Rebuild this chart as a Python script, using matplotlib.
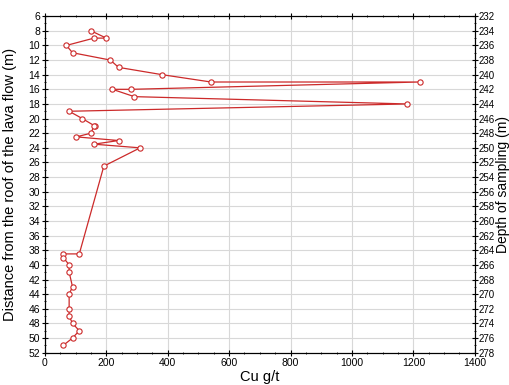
import matplotlib
matplotlib.use("Agg")
import matplotlib.pyplot as plt
from matplotlib.ticker import MultipleLocator

# Cu content (g/t) vs distance from the roof of the lava flow (m)
cu = [150, 200, 160, 70, 90, 213, 240, 382, 541, 1220, 282, 220, 291, 1180,
      79, 122, 162, 160, 150, 102, 240, 160, 310, 192, 112, 60, 60, 79, 79,
      90, 79, 79, 79, 90, 112, 90, 60]
dist = [8, 9, 9, 10, 11, 12, 13, 14, 15, 15, 16, 16, 17, 18, 19, 20, 21, 21,
        22, 22.5, 23, 23.5, 24, 26.5, 38.5, 38.5, 39, 40, 41, 43, 44, 46, 47,
        48, 49, 50, 51]
depth_offset = 226

plt.rcParams['font.family'] = ['Liberation Sans', 'DejaVu Sans']

fig = plt.figure(figsize=(5.1, 3.85), dpi=100)
ax = fig.add_axes([0.088, 0.084, 0.843, 0.874])

ax.plot(cu, dist, color='#cc2a2a', lw=0.9, marker='o', ms=3.8,
        mfc='white', mec='#cc2a2a', mew=0.8, zorder=3)

ax.set_xlim(0, 1400)
ax.set_ylim(52, 6)
ax.xaxis.set_major_locator(MultipleLocator(200))
ax.xaxis.set_minor_locator(MultipleLocator(50))
ax.yaxis.set_major_locator(MultipleLocator(2))
ax.yaxis.set_minor_locator(MultipleLocator(1))
ax.grid(True, which='major', color='#d8d8d8', lw=0.8)
ax.tick_params(which='both', direction='inout', top=True, pad=1.5, labelsize=7.5)
ax.tick_params(which='major', length=4)
ax.tick_params(which='minor', length=2)

ax.set_xlabel('Cu g/t', fontsize=10.5, va='center')
ax.xaxis.set_label_coords(0.5, -0.072)
ax.set_ylabel('Distance from the roof of the lava flow (m)', fontsize=10.5, va='center')
ax.yaxis.set_label_coords(-0.081, 0.5)

ax2 = ax.twinx()
ax2.set_ylim(52 + depth_offset, 6 + depth_offset)
ax2.yaxis.set_major_locator(MultipleLocator(2))
ax2.yaxis.set_minor_locator(MultipleLocator(1))
ax2.tick_params(which='both', direction='inout', pad=1, labelsize=7)
ax2.tick_params(which='major', length=4)
ax2.tick_params(which='minor', length=2)
ax2.set_ylabel('Depth of sampling (m)', fontsize=10, va='center')
ax2.yaxis.set_label_coords(1.066, 0.5)

fig.savefig('out.png', dpi=100)
